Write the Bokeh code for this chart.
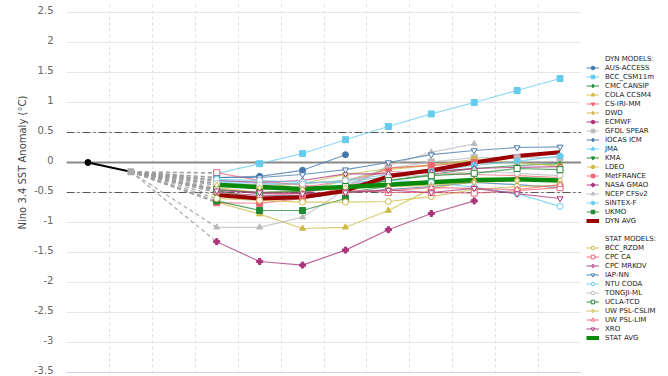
import math
from bokeh.plotting import figure
from bokeh.layouts import row
from bokeh.models import (Span, Legend, LegendItem, FixedTicker, CustomJSTickFormatter,
                          ColumnDataSource, Range1d, Title, LinearAxis)
from bokeh.embed import file_html
from bokeh.resources import INLINE

# ---------------- data ----------------
n_columns = 12            # category slots on the x axis
obs_columns = [0, 1]      # observed values
obs_values = [0.0, -0.155]
first_forecast_column = 3

y_ticks = [-3.5, -3.0, -2.5, -2.0, -1.5, -1.0, -0.5, 0.0, 0.5, 1.0, 1.5, 2.0, 2.5]

BLUE, CYAN, GREEN, YELLOW, RED, PURPLE, GREY = ("#4477AA", "#66CCEE", "#228833",
                                               "#CCBB44", "#EE6677", "#AA3377", "#BBBBBB")

dyn_names = ["AUS-ACCESS", "BCC_CSM11m", "CMC CANSIP", "COLA CCSM4", "CS-IRI-MM", "DWD",
             "ECMWF", "GFDL SPEAR", "IOCAS ICM", "JMA", "KMA", "LDEO", "MetFRANCE",
             "NASA GMAO", "NCEP CFSv2", "SINTEX-F", "UKMO"]
dyn_colors = [BLUE, CYAN, GREEN, YELLOW, RED, YELLOW, PURPLE, GREY, BLUE, CYAN, GREEN,
              YELLOW, RED, PURPLE, GREY, CYAN, GREEN]
dyn_markers = ["circle", "square", "diamond", "triangle", "inverted_triangle", "diamond",
               "circle", "square", "diamond", "triangle", "inverted_triangle", "circle",
               "square", "plus", "triangle", "circle", "square"]
dyn_values = [
    [-0.25, -0.23, -0.13, 0.13],
    [-0.18, -0.02, 0.15, 0.38, 0.60, 0.81, 1.00, 1.20, 1.40],
    [-0.47, -0.60, -0.58, -0.45, -0.30, -0.20, -0.10, -0.05, -0.02],
    [-0.66, -0.86, -1.10, -1.08, -0.80, -0.44, -0.30, -0.28, -0.32],
    [-0.35, -0.45, -0.42, -0.30, -0.15, -0.18, -0.20, -0.22, -0.25],
    [-0.42, -0.50, -0.48, -0.30, -0.12, -0.05, 0.02],
    [-0.45, -0.52, -0.50, -0.40, -0.25, -0.15, -0.10],
    [-0.45, -0.50, -0.45, -0.30, -0.10, 0.01, 0.08, 0.08, 0.08],
    [-0.50, -0.55, -0.55, -0.50, -0.45, -0.40, -0.33, -0.37, -0.42],
    [-0.32, -0.38, -0.35, -0.30, -0.20, -0.12],
    [-0.55, -0.62, -0.60, -0.50, -0.40, -0.30],
    [-0.38, -0.42, -0.35, -0.20, -0.10, -0.04, 0.05, 0.00, -0.06],
    [-0.67, -0.68, -0.60, -0.40, -0.09, -0.05, 0.00],
    [-1.32, -1.65, -1.71, -1.46, -1.12, -0.85, -0.64],
    [-1.08, -1.08, -0.91, -0.45, -0.05, 0.17, 0.31],
    [-0.30, -0.35, -0.35, -0.30, -0.25, -0.15, -0.05, 0.02, 0.11],
    [-0.64, -0.80, -0.80, -0.60],
]
dyn_avg = [-0.54, -0.60, -0.58, -0.47, -0.23, -0.13, 0.00, 0.11, 0.17]

stat_names = ["BCC_RZDM", "CPC CA", "CPC MRKOV", "IAP-NN", "NTU CODA", "TONGJI-ML",
              "UCLA-TCD", "UW PSL-CSLIM", "UW PSL-LIM", "XRO"]
stat_colors = [YELLOW, RED, PURPLE, BLUE, CYAN, GREY, GREEN, YELLOW, RED, PURPLE]
stat_markers = ["circle", "square", "diamond", "inverted_triangle", "circle", "circle",
                "square", "diamond", "triangle", "inverted_triangle"]
stat_values = [
    [-0.60, -0.63, -0.66, -0.66, -0.65, -0.57, -0.45, -0.40, -0.38],
    [-0.17, -0.30, -0.38, -0.45, -0.50, -0.50, -0.51, -0.47, -0.42],
    [-0.30, -0.33, -0.30, -0.19, -0.19, -0.16, -0.10, -0.08, -0.07],
    [-0.25, -0.25, -0.20, -0.12, 0.00, 0.13, 0.20, 0.25, 0.26],
    [-0.28, -0.30, -0.33, -0.33, -0.30, -0.33, -0.41, -0.52, -0.73],
    [-0.35, -0.37, -0.36, -0.30, -0.25, -0.20, -0.15, -0.18, -0.22],
    [-0.45, -0.50, -0.48, -0.40, -0.30, -0.22, -0.18, -0.10, -0.12],
    [-0.38, -0.42, -0.45, -0.42, -0.40, -0.38, -0.33, -0.30, -0.30],
    [-0.50, -0.55, -0.52, -0.50, -0.47, -0.42, -0.43, -0.45, -0.37],
    [-0.47, -0.50, -0.52, -0.50, -0.46, -0.50, -0.43, -0.52, -0.60],
]
stat_avg = [-0.37, -0.41, -0.44, -0.41, -0.37, -0.33, -0.29, -0.28, -0.30]

y_title = "Nino 3.4 SST Anomaly (°C)"
dyn_header, stat_header = "DYN MODELS:", "STAT MODELS:"
dyn_avg_label, stat_avg_label = "DYN AVG", "STAT AVG"
DYN_AVG_COLOR, STAT_AVG_COLOR = "#9b0000", "#0a8a0a"

# ---------------- main figure ----------------
Y_START, Y_END = -3.5 - 1 / 60, 2.7
LABEL_LIFT = 0.045   # tick labels sit slightly above their grid lines, as in the original

p = figure(width=581, height=376, output_backend="svg", toolbar_location=None,
           x_range=Range1d(0, n_columns), y_range=Range1d(Y_START, Y_END),
           x_axis_location=None, y_axis_location=None,
           min_border_left=66, min_border_right=0, min_border_top=0, min_border_bottom=3)
p.outline_line_color = None
p.background_fill_color = "white"

p.ygrid.ticker = FixedTicker(ticks=y_ticks)
p.ygrid.grid_line_color = "#e6e6e6"
p.xgrid.ticker = FixedTicker(ticks=list(range(n_columns + 1)))
p.xgrid.grid_line_color = "#e0e0e0"
p.xgrid.grid_line_dash = "3 3"

p.extra_y_ranges = {"labels": Range1d(Y_START - LABEL_LIFT, Y_END - LABEL_LIFT)}
ya = LinearAxis(y_range_name="labels", ticker=FixedTicker(ticks=y_ticks),
                formatter=CustomJSTickFormatter(code="return String(Math.round(tick * 10) / 10);"))
ya.axis_line_color = None
ya.major_tick_line_color = None
ya.minor_tick_line_color = None
ya.major_label_standoff = 7
ya.major_label_text_font = "DejaVu Sans"
ya.major_label_text_font_size = "10px"
ya.major_label_text_color = "#666666"
p.add_layout(ya, "left")

# axis title: centred on the zero line as in the (top-cropped) original
p.add_layout(Title(text=y_title, align="left", offset=144, standoff=6,
                   text_font="DejaVu Sans", text_font_size="10px",
                   text_font_style="normal", text_color="#444444"), "left")

for loc, col, dash, w in [(0.0, "#888888", "solid", 2), (0.5, "#555555", "8 3 2 3", 1.2),
                          (-0.5, "#555555", "8 3 2 3", 1.2), (-3.5, "#ccd6eb", "solid", 1)]:
    p.add_layout(Span(location=loc, dimension="width", line_color=col, line_dash=dash,
                      line_width=w, level="underlay"))


def xs_for(vals):
    return [first_forecast_column + k + 0.5 for k in range(len(vals))]


all_values = dyn_values + stat_values
all_colors = dyn_colors + stat_colors
all_markers = dyn_markers + stat_markers
nd = len(dyn_names)

# dashed connectors from last observation to first forecast
conn_xs = [[obs_columns[-1] + 0.5, xs_for(v)[0]] for v in all_values]
conn_ys = [[obs_values[-1], v[0]] for v in all_values]
p.multi_line(conn_xs, conn_ys, line_color="#9a9a9a", line_dash="4 3", line_width=1.2,
             line_alpha=0.85)

# observations
p.line([c + 0.5 for c in obs_columns], obs_values, line_color="black", line_width=2)
p.scatter([obs_columns[0] + 0.5], [obs_values[0]], marker="circle", size=6, color="black")
p.scatter([obs_columns[1] + 0.5], [obs_values[1]], marker="square", size=6, color="#aaaaaa")

for vals, col in zip(all_values, all_colors):
    src = ColumnDataSource(dict(x=xs_for(vals), y=vals))
    p.line("x", "y", source=src, line_color=col, line_width=1.2, line_alpha=0.75)

p.line(xs_for(dyn_avg), dyn_avg, line_color=DYN_AVG_COLOR, line_width=4)
p.line(xs_for(stat_avg), stat_avg, line_color=STAT_AVG_COLOR, line_width=4.5)

for i, (vals, col, mk) in enumerate(zip(all_values, all_colors, all_markers)):
    src = ColumnDataSource(dict(x=xs_for(vals), y=vals))
    p.scatter("x", "y", source=src, marker=mk, size=6, line_color=col,
              fill_color="white" if i >= nd else col, line_width=1)

# ---------------- legend panel ----------------
leg = figure(width=87, height=376, output_backend="svg", toolbar_location=None,
             x_range=Range1d(0, 1), y_range=Range1d(0, 1), min_border=0,
             x_axis_location=None, y_axis_location=None)
leg.grid.visible = False
leg.outline_line_color = None

NAN = [float("nan")]   # legend-only renderers carry no visible data
blank = leg.line(x=NAN, y=NAN, line_alpha=0)


def legend_entry(i):
    col, mk = all_colors[i], all_markers[i]
    ln = leg.line(x=NAN, y=NAN, line_color=col, line_width=1.2, line_alpha=0.75)
    sc = leg.scatter(x=NAN, y=NAN, marker=mk, line_color=col,
                     fill_color="white" if i >= nd else col, line_width=1)
    return [ln, sc]


items = [LegendItem(label=dyn_header, renderers=[blank])]
for i, name in enumerate(dyn_names):
    items.append(LegendItem(label=name, renderers=legend_entry(i)))
items.append(LegendItem(label=dyn_avg_label,
                        renderers=[leg.line(x=NAN, y=NAN, line_color=DYN_AVG_COLOR,
                                            line_width=4)]))
items.append(LegendItem(label=" ", renderers=[blank]))
items.append(LegendItem(label=stat_header, renderers=[blank]))
for j, name in enumerate(stat_names):
    items.append(LegendItem(label=name, renderers=legend_entry(nd + j)))
items.append(LegendItem(label=stat_avg_label,
                        renderers=[leg.line(x=NAN, y=NAN, line_color=STAT_AVG_COLOR,
                                            line_width=4)]))

legend = Legend(items=items, location=(5, 31), orientation="vertical", ncols=1,
                label_text_font="DejaVu Sans", label_text_font_size="7px",
                label_text_color="#222222", glyph_width=13, glyph_height=9,
                label_height=9, spacing=0, padding=0, margin=0, label_standoff=6,
                border_line_color=None, background_fill_alpha=0)
leg.add_layout(legend)

layout = row(p, leg)
open("out.html", "w").write(file_html(layout, INLINE))
